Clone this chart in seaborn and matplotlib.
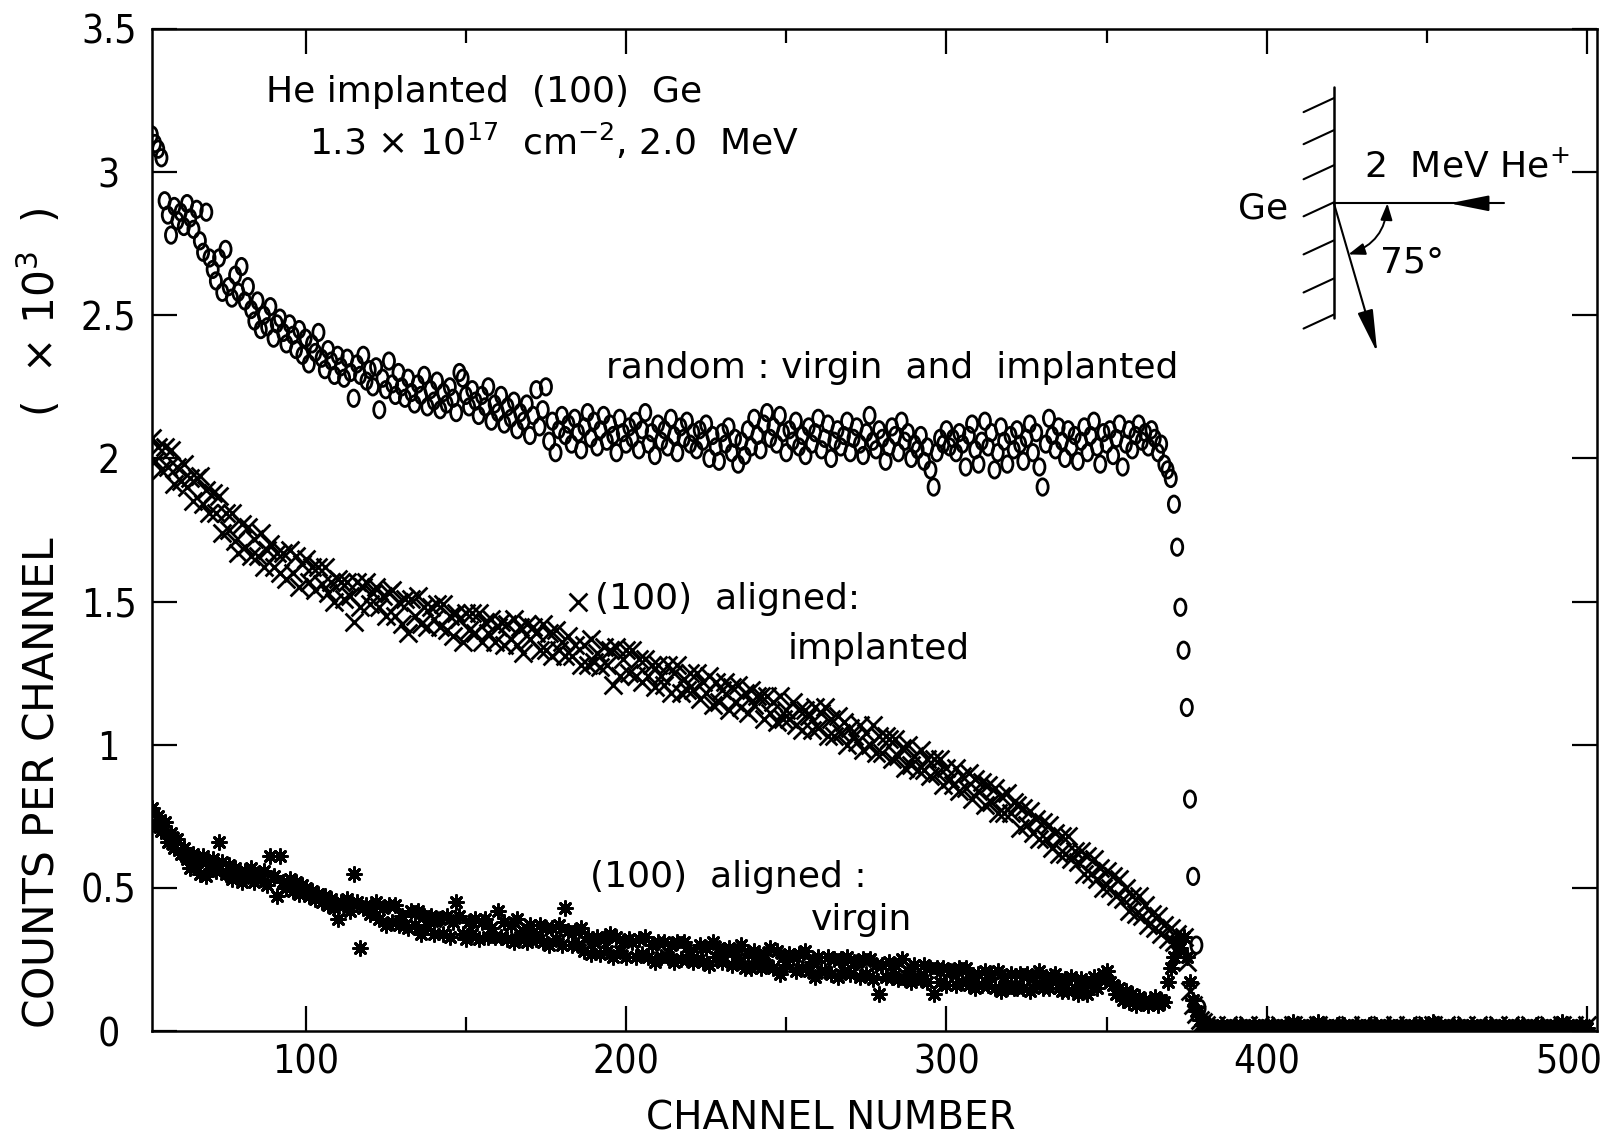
import matplotlib
matplotlib.use("Agg")
import numpy as np
import pandas as pd
import matplotlib.pyplot as plt
import matplotlib.transforms as mtransforms
from matplotlib import font_manager
from matplotlib.path import Path
from matplotlib.transforms import Affine2D
from matplotlib.ticker import MultipleLocator, FixedLocator
import seaborn as sns

# channel numbers (one point per channel up to the surface edge)
channel = list(range(52, 382))
# after the edge the spectra sit on the baseline
tail_channel = list(range(382, 502, 2))

# random : virgin and implanted  (counts x 10^3)
random_counts = [
    3.13, 3.10, 3.08, 3.05, 2.90, 2.85, 2.78, 2.88, 2.83, 2.86,
    2.81, 2.89, 2.84, 2.80, 2.87, 2.76, 2.72, 2.86, 2.70, 2.66,
    2.62, 2.70, 2.58, 2.73, 2.60, 2.56, 2.64, 2.58, 2.67, 2.55,
    2.60, 2.52, 2.48, 2.55, 2.45, 2.50, 2.46, 2.53, 2.42, 2.47,
    2.49, 2.44, 2.40, 2.47, 2.43, 2.38, 2.45, 2.36, 2.42, 2.33,
    2.40, 2.37, 2.44, 2.35, 2.31, 2.38, 2.34, 2.29, 2.36, 2.32,
    2.28, 2.35, 2.30, 2.21, 2.33, 2.29, 2.36, 2.27, 2.31, 2.25,
    2.32, 2.17, 2.28, 2.24, 2.34, 2.26, 2.22, 2.30, 2.25, 2.21,
    2.28, 2.23, 2.19, 2.26, 2.22, 2.29, 2.18, 2.24, 2.20, 2.27,
    2.17, 2.23, 2.19, 2.25, 2.21, 2.16, 2.30, 2.28, 2.22, 2.18,
    2.24, 2.20, 2.15, 2.22, 2.18, 2.25, 2.13, 2.19, 2.16, 2.22,
    2.12, 2.18, 2.14, 2.20, 2.10, 2.16, 2.13, 2.19, 2.08, 2.15,
    2.24, 2.11, 2.17, 2.25, 2.06, 2.13, 2.02, 2.10, 2.15, 2.08,
    2.12, 2.05, 2.14, 2.09, 2.03, 2.11, 2.16, 2.07, 2.13, 2.04,
    2.10, 2.15, 2.06, 2.12, 2.08, 2.02, 2.14, 2.09, 2.05, 2.11,
    2.07, 2.13, 2.03, 2.10, 2.16, 2.05, 2.09, 2.01, 2.12, 2.06,
    2.10, 2.04, 2.14, 2.08, 2.02, 2.11, 2.07, 2.13, 2.05, 2.09,
    2.03, 2.10, 2.06, 2.12, 2.00, 2.08, 2.04, 1.99, 2.09, 2.05,
    2.11, 2.02, 2.07, 1.98, 2.06, 2.01, 2.10, 2.04, 2.14, 2.08,
    2.03, 2.12, 2.16, 2.07, 2.11, 2.05, 2.15, 2.09, 2.02, 2.10,
    2.06, 2.13, 2.04, 2.08, 2.01, 2.11, 2.05, 2.09, 2.14, 2.03,
    2.07, 2.12, 2.00, 2.06, 2.10, 2.04, 2.08, 2.13, 2.02, 2.07,
    2.11, 2.05, 2.01, 2.09, 2.15, 2.06, 2.03, 2.10, 2.07, 1.99,
    2.04, 2.11, 2.08, 2.02, 2.13, 2.06, 2.09, 2.00, 2.05, 2.03,
    2.08, 1.99, 2.04, 1.96, 1.90, 2.02, 2.07, 2.05, 2.10, 2.04,
    2.07, 2.02, 2.09, 2.05, 1.97, 2.08, 2.12, 2.03, 1.98, 2.06,
    2.13, 2.04, 2.09, 1.96, 2.02, 2.11, 2.06, 1.98, 2.08, 2.03,
    2.10, 2.05, 1.99, 2.07, 2.12, 2.02, 2.09, 1.97, 1.90, 2.05,
    2.14, 2.08, 2.03, 2.11, 2.06, 2.00, 2.10, 2.04, 2.08, 1.99,
    2.06, 2.11, 2.02, 2.08, 2.13, 2.04, 1.98, 2.09, 2.05, 2.10,
    2.01, 2.07, 2.12, 1.97, 2.05, 2.10, 2.03, 2.08, 2.12, 2.06,
    2.09, 2.04, 2.10, 2.07, 2.02, 2.05, 1.98, 1.96, 1.93, 1.84,
    1.69, 1.48, 1.33, 1.13, 0.81, 0.54, 0.30, 0.08, 0.03, 0.02,
]

# (100) aligned : implanted
implanted_counts = [
    2.07, 1.99, 2.04, 1.96, 2.04, 1.97, 2.03, 1.91, 1.97, 1.92,
    1.98, 1.90, 1.93, 1.85, 1.93, 1.94, 1.84, 1.89, 1.81, 1.88,
    1.81, 1.87, 1.74, 1.81, 1.75, 1.81, 1.71, 1.67, 1.77, 1.69,
    1.76, 1.66, 1.72, 1.66, 1.74, 1.62, 1.68, 1.70, 1.62, 1.67,
    1.60, 1.67, 1.58, 1.68, 1.60, 1.66, 1.55, 1.63, 1.65, 1.57,
    1.62, 1.54, 1.62, 1.56, 1.62, 1.53, 1.57, 1.50, 1.58, 1.57,
    1.51, 1.57, 1.52, 1.43, 1.57, 1.48, 1.55, 1.57, 1.49, 1.53,
    1.55, 1.48, 1.52, 1.45, 1.53, 1.54, 1.45, 1.50, 1.42, 1.51,
    1.39, 1.51, 1.45, 1.52, 1.42, 1.48, 1.41, 1.48, 1.44, 1.49,
    1.41, 1.49, 1.40, 1.45, 1.38, 1.46, 1.44, 1.36, 1.46, 1.40,
    1.46, 1.39, 1.46, 1.36, 1.43, 1.39, 1.44, 1.36, 1.41, 1.43,
    1.35, 1.42, 1.37, 1.44, 1.35, 1.41, 1.32, 1.42, 1.37, 1.41,
    1.39, 1.33, 1.42, 1.33, 1.39, 1.31, 1.40, 1.33, 1.36, 1.31,
    1.38, 1.31, 1.35, 1.50, 1.28, 1.35, 1.28, 1.37, 1.29, 1.32,
    1.27, 1.34, 1.28, 1.33, 1.21, 1.34, 1.24, 1.30, 1.33, 1.25,
    1.33, 1.24, 1.30, 1.22, 1.30, 1.24, 1.28, 1.20, 1.28, 1.24,
    1.21, 1.28, 1.18, 1.25, 1.28, 1.18, 1.23, 1.19, 1.25, 1.19,
    1.25, 1.16, 1.22, 1.18, 1.24, 1.14, 1.22, 1.15, 1.19, 1.22,
    1.12, 1.20, 1.15, 1.21, 1.13, 1.18, 1.11, 1.19, 1.14, 1.17,
    1.17, 1.09, 1.17, 1.11, 1.15, 1.08, 1.17, 1.09, 1.12, 1.09,
    1.15, 1.07, 1.12, 1.05, 1.12, 1.10, 1.05, 1.13, 1.06, 1.11,
    1.13, 1.03, 1.09, 1.03, 1.10, 1.04, 1.08, 1.00, 1.06, 1.03,
    1.01, 1.07, 0.98, 1.04, 1.00, 1.07, 0.97, 1.03, 0.97, 1.03,
    1.02, 0.95, 1.02, 0.96, 0.99, 0.92, 1.00, 0.93, 0.96, 0.91,
    0.98, 0.91, 0.95, 0.89, 0.95, 0.90, 0.95, 0.86, 0.92, 0.88,
    0.86, 0.92, 0.84, 0.89, 0.85, 0.90, 0.81, 0.88, 0.84, 0.87,
    0.79, 0.86, 0.80, 0.85, 0.76, 0.82, 0.76, 0.83, 0.76, 0.80,
    0.79, 0.71, 0.78, 0.72, 0.77, 0.69, 0.74, 0.67, 0.73, 0.67,
    0.72, 0.64, 0.69, 0.62, 0.68, 0.62, 0.68, 0.60, 0.63, 0.59,
    0.63, 0.55, 0.61, 0.55, 0.60, 0.53, 0.57, 0.50, 0.56, 0.50,
    0.54, 0.47, 0.53, 0.46, 0.50, 0.42, 0.47, 0.41, 0.47, 0.40,
    0.44, 0.37, 0.41, 0.36, 0.40, 0.34, 0.37, 0.32, 0.36, 0.31,
    0.34, 0.30, 0.33, 0.24, 0.14, 0.09, 0.06, 0.04, 0.03, 0.02,
]

# (100) aligned : virgin
virgin_counts = [
    0.78, 0.72, 0.75, 0.70, 0.73, 0.66, 0.69, 0.64, 0.67, 0.62,
    0.64, 0.60, 0.57, 0.62, 0.59, 0.55, 0.61, 0.54, 0.58, 0.60,
    0.56, 0.66, 0.59, 0.55, 0.58, 0.53, 0.57, 0.55, 0.52, 0.56,
    0.54, 0.57, 0.52, 0.55, 0.53, 0.56, 0.51, 0.61, 0.54, 0.47,
    0.61, 0.52, 0.50, 0.53, 0.49, 0.52, 0.48, 0.51, 0.50, 0.47,
    0.49, 0.46, 0.48, 0.45, 0.47, 0.44, 0.46, 0.43, 0.39, 0.45,
    0.44, 0.46, 0.42, 0.55, 0.45, 0.29, 0.43, 0.44, 0.41, 0.43,
    0.45, 0.39, 0.43, 0.37, 0.44, 0.38, 0.44, 0.37, 0.40, 0.37,
    0.36, 0.42, 0.37, 0.42, 0.34, 0.40, 0.37, 0.40, 0.34, 0.39,
    0.39, 0.34, 0.40, 0.33, 0.38, 0.45, 0.40, 0.34, 0.32, 0.38,
    0.34, 0.39, 0.32, 0.38, 0.39, 0.33, 0.36, 0.33, 0.42, 0.33,
    0.38, 0.32, 0.37, 0.31, 0.39, 0.33, 0.35, 0.31, 0.37, 0.33,
    0.32, 0.37, 0.31, 0.36, 0.30, 0.36, 0.32, 0.37, 0.30, 0.43,
    0.35, 0.30, 0.35, 0.30, 0.36, 0.28, 0.33, 0.27, 0.31, 0.33,
    0.27, 0.32, 0.28, 0.34, 0.26, 0.33, 0.28, 0.31, 0.26, 0.32,
    0.31, 0.26, 0.32, 0.27, 0.33, 0.26, 0.30, 0.24, 0.31, 0.26,
    0.31, 0.26, 0.30, 0.24, 0.31, 0.25, 0.31, 0.25, 0.28, 0.24,
    0.25, 0.30, 0.24, 0.29, 0.23, 0.31, 0.26, 0.29, 0.24, 0.28,
    0.29, 0.23, 0.28, 0.24, 0.30, 0.22, 0.27, 0.22, 0.28, 0.24,
    0.22, 0.27, 0.23, 0.29, 0.22, 0.28, 0.20, 0.26, 0.23, 0.27,
    0.26, 0.21, 0.27, 0.22, 0.28, 0.21, 0.24, 0.19, 0.26, 0.21,
    0.21, 0.26, 0.20, 0.25, 0.19, 0.25, 0.21, 0.26, 0.20, 0.24,
    0.24, 0.19, 0.25, 0.20, 0.25, 0.18, 0.23, 0.13, 0.23, 0.19,
    0.24, 0.19, 0.23, 0.18, 0.25, 0.18, 0.21, 0.17, 0.23, 0.19,
    0.18, 0.23, 0.17, 0.22, 0.13, 0.22, 0.17, 0.22, 0.16, 0.21,
    0.21, 0.16, 0.22, 0.17, 0.22, 0.16, 0.19, 0.15, 0.20, 0.16,
    0.21, 0.16, 0.20, 0.15, 0.21, 0.14, 0.19, 0.15, 0.20, 0.15,
    0.15, 0.20, 0.15, 0.20, 0.14, 0.19, 0.16, 0.21, 0.15, 0.19,
    0.15, 0.19, 0.20, 0.15, 0.14, 0.18, 0.14, 0.19, 0.15, 0.13,
    0.18, 0.14, 0.13, 0.17, 0.19, 0.15, 0.18, 0.20, 0.21, 0.17,
    0.16, 0.13, 0.15, 0.11, 0.14, 0.10, 0.13, 0.09, 0.12, 0.10,
    0.11, 0.09, 0.10, 0.12, 0.09, 0.11, 0.10, 0.17, 0.22, 0.26,
    0.31, 0.29, 0.33, 0.26, 0.17, 0.11, 0.07, 0.04, 0.02, 0.02,
]

# baseline beyond the edge
tail_virgin = [
    0.02, 0.01, 0.02, 0.01, 0.02, 0.02, 0.01, 0.02, 0.01, 0.02,
    0.02, 0.01, 0.02, 0.03, 0.02, 0.01, 0.02, 0.03, 0.02, 0.01,
    0.02, 0.02, 0.01, 0.02, 0.01, 0.02, 0.02, 0.01, 0.02, 0.01,
    0.02, 0.01, 0.02, 0.02, 0.01, 0.03, 0.02, 0.01, 0.02, 0.02,
    0.01, 0.02, 0.01, 0.02, 0.02, 0.01, 0.02, 0.01, 0.02, 0.02,
    0.01, 0.02, 0.02, 0.01, 0.02, 0.03, 0.02, 0.01, 0.02, 0.01,
]
tail_implanted = [
    0.01, 0.02, 0.01, 0.02, 0.01, 0.01, 0.02, 0.01, 0.02, 0.01,
    0.01, 0.02, 0.01, 0.02, 0.01, 0.02, 0.01, 0.02, 0.01, 0.02,
    0.01, 0.01, 0.02, 0.01, 0.02, 0.01, 0.01, 0.02, 0.01, 0.02,
    0.01, 0.02, 0.01, 0.01, 0.02, 0.02, 0.01, 0.02, 0.01, 0.01,
    0.02, 0.01, 0.02, 0.01, 0.01, 0.02, 0.01, 0.02, 0.01, 0.01,
    0.02, 0.01, 0.01, 0.02, 0.01, 0.02, 0.01, 0.02, 0.01, 0.02,
]

x_ticks = [100, 200, 300, 400, 500]
y_ticks = [0, 0.5, 1, 1.5, 2, 2.5, 3, 3.5]
y_tick_labels = ["0", "0.5", "1", "1.5", "2", "2.5", "3", "3.5"]

# style
sns.set_theme(style="ticks")
plt.rcParams["font.family"] = ["DejaVu Sans"]
plt.rcParams["mathtext.fontset"] = "dejavusans"
for key in ["text.color", "axes.labelcolor", "xtick.color", "ytick.color",
            "axes.edgecolor"]:
    plt.rcParams[key] = "black"

# narrow digits for the tick labels if such a face is there
fonts = font_manager.fontManager.ttflist
names = {f.name for f in fonts}
tick_font, tick_stretch = "DejaVu Sans", "normal"
if "Liberation Sans Narrow" in names:
    tick_font = "Liberation Sans Narrow"
elif any(f.name == "DejaVu Sans" and "Condensed" in f.fname for f in fonts):
    tick_stretch = "condensed"

fig = plt.figure(figsize=(16.15, 11.4), dpi=100)
ax = fig.add_axes([0.094, 0.0956, 0.8948, 0.879])

virgin_df = pd.DataFrame({"channel": channel + tail_channel,
                          "counts": virgin_counts + tail_virgin})
implanted_df = pd.DataFrame({"channel": channel + tail_channel,
                             "counts": implanted_counts + tail_implanted})
random_df = pd.DataFrame({"channel": channel, "counts": random_counts})

# open "o" drawn taller than wide, like the original
ellipse = Path.unit_circle().transformed(Affine2D().scale(0.68, 1.0))

sns.scatterplot(data=virgin_df, x="channel", y="counts", marker=(8, 2, 0),
                s=100, color="black", linewidth=2.1, ax=ax, zorder=3)
sns.scatterplot(data=implanted_df, x="channel", y="counts", marker="x",
                s=165, color="black", linewidth=2.0, ax=ax, zorder=3)
sns.scatterplot(data=random_df, x="channel", y="counts", marker=ellipse,
                s=140, color="black", facecolor="none", edgecolor="black",
                linewidth=2.0, ax=ax, zorder=3)

# axes
ax.set_xlim(52, 503)
ax.set_ylim(0, 3.5)
ax.xaxis.set_major_locator(FixedLocator(x_ticks))
ax.xaxis.set_minor_locator(MultipleLocator(50))
ax.set_yticks(y_ticks)
ax.set_yticklabels(y_tick_labels)
ax.tick_params(which="both", direction="in", top=True, right=True,
               width=1.6, color="black", labelcolor="black")
ax.tick_params(which="major", length=18)
ax.tick_params(which="minor", length=10)
ax.tick_params(axis="x", pad=9, labelsize=28)
ax.tick_params(axis="y", pad=31, labelsize=28)
for lab in ax.get_xticklabels() + ax.get_yticklabels():
    lab.set_fontfamily(tick_font)
    lab.set_fontstretch(tick_stretch)
for lab in ax.get_yticklabels():
    lab.set_ha("center")
# the last channel label sits a little left of its tick in the original
last = ax.xaxis.get_major_ticks()[len(x_ticks) - 1].label1
last.set_transform(last.get_transform()
                   + mtransforms.ScaledTranslation(-13 / 72, 0, fig.dpi_scale_trans))
for sp in ax.spines.values():
    sp.set_linewidth(1.8)
    sp.set_color("black")

ax.set_xlabel("CHANNEL NUMBER", fontsize=28, va="center")
ax.xaxis.set_label_coords(0.47, -0.087)
ax.set_ylabel("COUNTS PER CHANNEL         (  × 10$^3$  )", fontsize=30.5,
              va="center")
ax.yaxis.set_label_coords(-0.077, 0.412)

# labels inside the plot
T = ax.transAxes
fs = 26
ax.text(0.079, 0.937, "He implanted  (100)  Ge", transform=T, fontsize=fs,
        ha="left", va="center")
ax.text(0.109, 0.887, "1.3 × 10$^{17}$  cm$^{-2}$, 2.0  MeV", transform=T,
        fontsize=fs, ha="left", va="center")
ax.text(0.314, 0.662, "random : virgin  and  implanted", transform=T,
        fontsize=fs, ha="left", va="center")
ax.text(0.307, 0.431, "(100)  aligned:", transform=T, fontsize=fs,
        ha="left", va="center")
ax.text(0.440, 0.381, "implanted", transform=T, fontsize=fs,
        ha="left", va="center")
ax.text(0.303, 0.154, "(100)  aligned :", transform=T, fontsize=fs,
        ha="left", va="center")
ax.text(0.456, 0.111, "virgin", transform=T, fontsize=fs,
        ha="left", va="center")

# geometry sketch: surface, incoming and outgoing beams
ox, oy = 0.818, 0.826
ax.plot([ox, ox], [0.712, 0.942], color="black", lw=1.8, transform=T)
for hy in [0.931, 0.899, 0.864, 0.827, 0.789, 0.751, 0.715]:
    ax.plot([ox, ox - 0.021], [hy, hy - 0.014], color="black", lw=1.5,
            transform=T)
ax.plot([ox, 0.936], [oy, oy], color="black", lw=1.5, transform=T)
ax.annotate("", xy=(0.898, oy), xytext=(0.921, oy), xycoords=T, textcoords=T,
            arrowprops=dict(arrowstyle="-|>,head_length=1.1,head_width=0.22",
                            color="black", lw=1.5, mutation_scale=22,
                            shrinkA=0, shrinkB=0))
ax.annotate("", xy=(0.848, 0.677), xytext=(ox, oy), xycoords=T, textcoords=T,
            arrowprops=dict(arrowstyle="-|>,head_length=1.2,head_width=0.22",
                            color="black", lw=1.5, mutation_scale=22,
                            shrinkA=0, shrinkB=0))
ax.annotate("", xy=(0.828, 0.775), xytext=(0.855, 0.826), xycoords=T,
            textcoords=T,
            arrowprops=dict(arrowstyle="<|-|>,head_length=0.5,head_width=0.18",
                            connectionstyle="arc3,rad=-0.34", color="black",
                            lw=1.4, mutation_scale=20, shrinkA=0, shrinkB=0))
ax.text(0.769, 0.821, "Ge", transform=T, fontsize=fs, ha="center", va="center")
ax.text(0.872, 0.767, "75°", transform=T, fontsize=fs, ha="center", va="center")
ax.text(0.839, 0.863, "2  MeV He$^{+}$", transform=T, fontsize=fs,
        ha="left", va="center")

fig.savefig("out.png", dpi=100)
